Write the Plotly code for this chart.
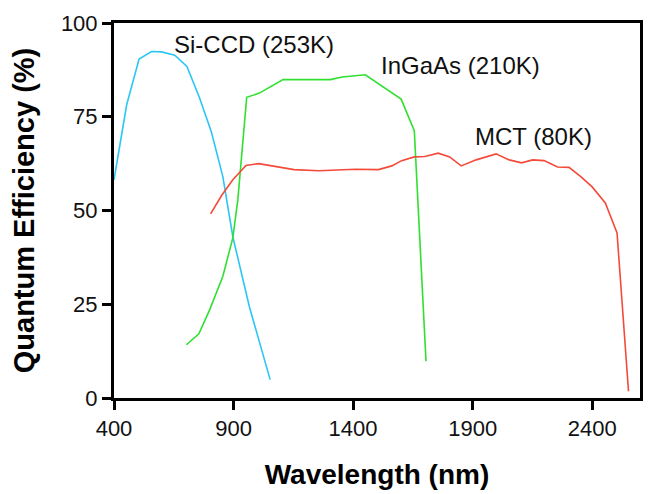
import plotly.graph_objects as go

# Data
si_x = [400, 453, 505, 557, 599, 654, 705, 758, 807, 855, 897, 966, 1053]
si_y = [58.2, 78.2, 90.4, 92.4, 92.3, 91.4, 88.4, 80.0, 71.0, 59.1, 43.0, 24.4, 4.9]

ingaas_x = [703, 755, 800, 855, 897, 918, 955, 1008, 1107, 1305, 1354, 1451, 1601, 1656, 1705]
ingaas_y = [14.2, 17.1, 23.5, 32.4, 42.7, 52.9, 80.2, 81.3, 84.9, 84.9, 85.6, 86.2, 79.7, 71.3, 9.8]

mct_x = [804, 850, 897, 952, 1005, 1077, 1153, 1257, 1409, 1506, 1562, 1603, 1656, 1700, 1756,
         1804, 1852, 1915, 1998, 2053, 2105, 2151, 2199, 2255, 2303, 2351, 2400, 2455, 2504, 2552]
mct_y = [49.1, 54.0, 58.2, 62.0, 62.5, 61.8, 60.9, 60.6, 61.0, 60.9, 61.9, 63.3, 64.3, 64.4, 65.3,
         64.3, 61.9, 63.5, 65.1, 63.5, 62.7, 63.5, 63.3, 61.6, 61.5, 59.1, 56.3, 52.0, 44.0, 1.8]

x_ticks = [400, 900, 1400, 1900, 2400]
y_ticks = [0, 25, 50, 75, 100]

labels = ["Si-CCD (253K)", "InGaAs (210K)", "MCT (80K)"]
label_x = [642, 1507, 1901]
label_y = [94.3, 88.7, 69.8]

colors = ["#2CC6F5", "#30E030", "#F44A3A"]
FONT = "Arial, Liberation Sans, sans-serif"

fig = go.Figure()
for xs, ys, c in [(si_x, si_y, colors[0]), (ingaas_x, ingaas_y, colors[1]), (mct_x, mct_y, colors[2])]:
    fig.add_trace(go.Scatter(x=xs, y=ys, mode="lines", line=dict(color=c, width=1.6),
                             showlegend=False, hoverinfo="skip"))

for t, lx, ly in zip(labels, label_x, label_y):
    fig.add_annotation(x=lx, y=ly, text=t, showarrow=False, xanchor="left", yanchor="middle",
                       font=dict(family=FONT, size=24, color="#111111"))

fig.update_layout(
    width=651, height=494,
    margin=dict(l=114, r=8, t=23, b=96),
    paper_bgcolor="white", plot_bgcolor="white",
    font=dict(family=FONT, color="#111111"),
)
fig.update_xaxes(range=[400, 2600], tickvals=x_ticks, ticktext=[str(v) for v in x_ticks],
                 showgrid=False, zeroline=False, showline=True, linecolor="black", linewidth=3,
                 mirror=True, ticks="outside", ticklen=9, tickwidth=3, tickcolor="black",
                 tickfont=dict(family=FONT, size=22, color="#111111"),
                 title=dict(text="<b>Wavelength (nm)</b>", font=dict(family=FONT, size=28, color="black"),
                            standoff=24))
fig.update_yaxes(range=[0, 100], tickvals=y_ticks, ticktext=[str(v) for v in y_ticks],
                 showgrid=False, zeroline=False, showline=True, linecolor="black", linewidth=3,
                 mirror=True, ticks="outside", ticklen=9, tickwidth=3, tickcolor="black",
                 tickfont=dict(family=FONT, size=22, color="#111111"),
                 title=dict(text="<b>Quantum Efficiency (%)</b>", font=dict(family=FONT, size=29, color="black"),
                            standoff=18))

fig.write_html("out.html")
